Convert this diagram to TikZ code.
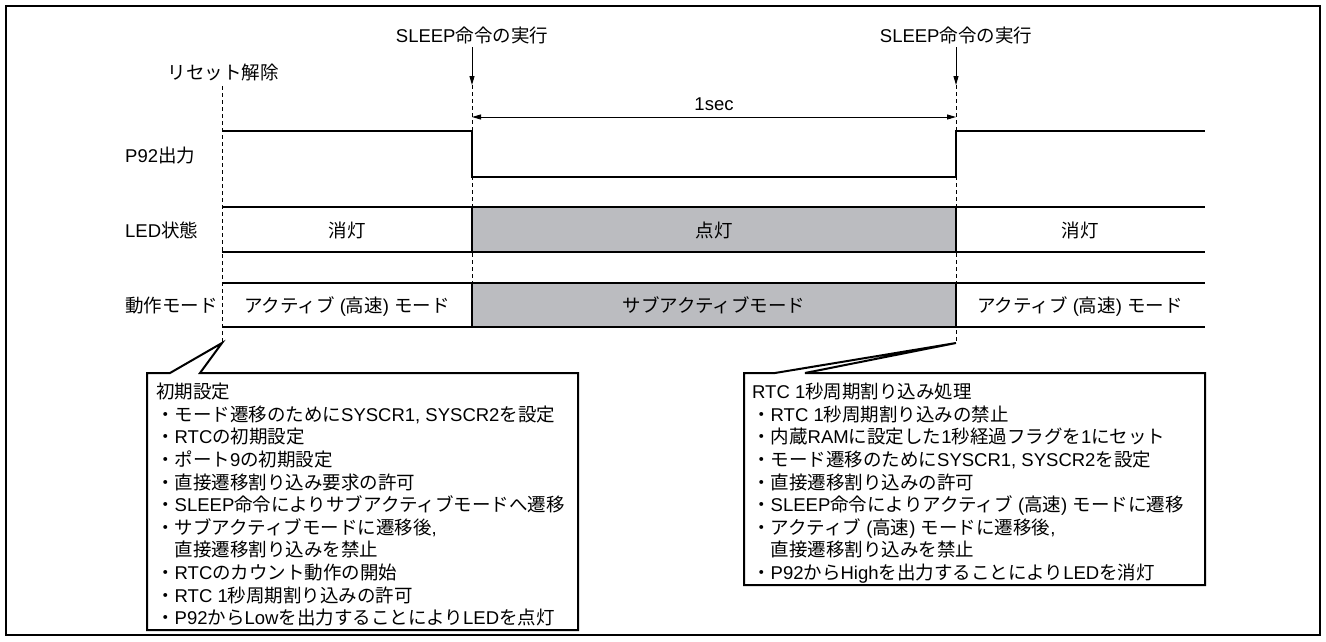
\documentclass[tikz,border=0pt]{standalone}
\usepackage{fontspec}
\setmainfont{Noto Sans CJK JP}
\newfontfamily\lat{Liberation Sans}
\usetikzlibrary{arrows.meta}
\newcommand\ltn[1]{{\lat #1}}
\definecolor{ledgray}{RGB}{187,188,192}
\begin{document}
\begin{tikzpicture}[x=1pt,y=-1pt,
  txt/.style={font=\fontsize{18.5}{22.6}\selectfont, inner sep=0pt, text height=16pt, text depth=2pt},
  ln/.style={txt, anchor=west},
  wave/.style={line width=2pt, line join=miter},
  rowline/.style={line width=1.8pt},
  dashline/.style={line width=0.9pt, dash pattern=on 4pt off 3pt},
  arr/.style={line width=0.9pt, -{Triangle[length=9pt,width=5pt]}},
  dim/.style={line width=0.9pt, {Triangle[length=9pt,width=5pt]}-{Triangle[length=9pt,width=5pt]}},
  callout/.style={line width=2pt, fill=white, line join=miter}]
\useasboundingbox (0,0) rectangle (1326,641);
\draw[line width=2pt] (6,6) rectangle (1320,635);

% time marks
\coordinate (r0) at (222,86);
\coordinate (r1) at (222,343);
\coordinate (a0) at (472,85);
\coordinate (a1) at (472,327);
\coordinate (b0) at (956,85);
\coordinate (b1) at (956,343);

\node[txt] (sleepA) at (472,35) {\ltn{SLEEP}命令の実行};
\node[txt] (sleepB) at (956,35) {\ltn{SLEEP}命令の実行};
\node[txt] (reset) at (223,72) {リセット解除};

\draw[arr] ([yshift=-3pt]sleepA.south) -- (a0);
\draw[arr] ([yshift=-3pt]sleepB.south) -- (b0);
\draw[dashline] (r0) -- (r1);
\draw[dashline] (a0) -- (a1);
\draw[dashline] (b0) -- (b1);

% 1 sec
\coordinate (d0) at (472,117);
\coordinate (d1) at (956,117);
\draw[dim] (d0) -- (d1);
\node[txt] (sec) at (714,103) {\ltn{1sec}};

% row labels
\node[txt, anchor=west] (p92) at (125,155) {\ltn{P92}出力};
\node[txt, anchor=west] (led) at (125,230) {\ltn{LED}状態};
\node[txt, anchor=west] (mode) at (125,305) {動作モード};

% P92 waveform
\draw[wave] (222,131) -| (472,177) -| (956,131) -- (1205,131);

% LED row
\fill[ledgray] (472,207) rectangle (956,252);
\draw[rowline] (222,207) -- (1205,207);
\draw[rowline] (222,252) -- (1205,252);
\draw[rowline] (472,207) -- (472,252);
\draw[rowline] (956,207) -- (956,252);
\node[txt] (off1) at (347,230) {消灯};
\node[txt] (on1) at (714,230) {点灯};
\node[txt] (off2) at (1080,230) {消灯};

% mode row
\fill[ledgray] (472,283) rectangle (956,327);
\draw[rowline] (222,283) -- (1205,283);
\draw[rowline] (222,327) -- (1205,327);
\draw[rowline] (472,283) -- (472,327);
\draw[rowline] (956,283) -- (956,327);
\node[txt] (m1) at (347,305) {アクティブ\ltn{\ (}高速\ltn{)\ }モード};
\node[txt] (m2) at (714,305) {サブアクティブモード};
\node[txt] (m3) at (1080,305) {アクティブ\ltn{\ (}高速\ltn{)\ }モード};

% left callout
\draw[callout] (200,373) -- (578,373) -- (578,630) -- (147,630) -- (147,373) -- (170,373) -- (r1) -- cycle;
\node[ln] (L0) at (156,391.7) {初期設定};
\node[ln] (L1) at (156,414.3) {・モード遷移のために\ltn{SYSCR1, SYSCR2}を設定};
\node[ln] (L2) at (156,436.9) {・\ltn{RTC}の初期設定};
\node[ln] (L3) at (156,459.5) {・ポート\ltn{9}の初期設定};
\node[ln] (L4) at (156,482.1) {・直接遷移割り込み要求の許可};
\node[ln] (L5) at (156,504.7) {・\ltn{SLEEP}命令によりサブアクティブモードへ遷移};
\node[ln] (L6) at (156,527.3) {・サブアクティブモードに遷移後\ltn{,}};
\node[ln] (L7) at (156,549.9) {\hphantom{・}直接遷移割り込みを禁止};
\node[ln] (L8) at (156,572.5) {・\ltn{RTC}のカウント動作の開始};
\node[ln] (L9) at (156,595.1) {・\ltn{RTC 1}秒周期割り込みの許可};
\node[ln] (L10) at (156,617.7) {・\ltn{P92}から\ltn{Low}を出力することにより\ltn{LED}を点灯};

% right callout
\draw[callout] (805,373) -- (1205,373) -- (1205,585) -- (744,585) -- (744,373) -- (775,373) -- (b1) -- cycle;
\node[ln] (R0) at (752,391.7) {\ltn{RTC 1}秒周期割り込み処理};
\node[ln] (R1) at (752,414.3) {・\ltn{RTC 1}秒周期割り込みの禁止};
\node[ln] (R2) at (752,436.9) {・内蔵\ltn{RAM}に設定した\ltn{1}秒経過フラグを\ltn{1}にセット};
\node[ln] (R3) at (752,459.5) {・モード遷移のために\ltn{SYSCR1, SYSCR2}を設定};
\node[ln] (R4) at (752,482.1) {・直接遷移割り込みの許可};
\node[ln] (R5) at (752,504.7) {・\ltn{SLEEP}命令によりアクティブ\ltn{\ (}高速\ltn{)\ }モードに遷移};
\node[ln] (R6) at (752,527.3) {・アクティブ\ltn{\ (}高速\ltn{)\ }モードに遷移後\ltn{,}};
\node[ln] (R7) at (752,549.9) {\hphantom{・}直接遷移割り込みを禁止};
\node[ln] (R8) at (752,572.5) {・\ltn{P92}から\ltn{High}を出力することにより\ltn{LED}を消灯};
\end{tikzpicture}
\end{document}
